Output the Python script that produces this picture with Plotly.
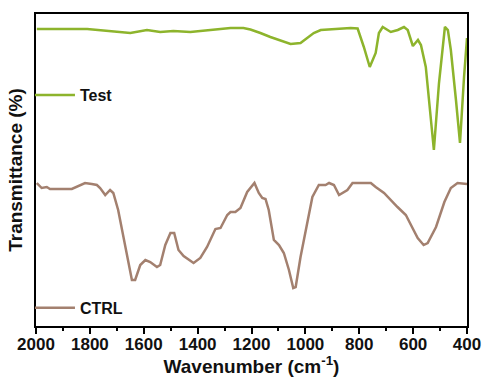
import plotly.graph_objects as go

# Wavenumber (cm-1) and transmittance (arbitrary, offset)
test_wn = [1997, 1810, 1650, 1588, 1539, 1490, 1427, 1353, 1278, 1230, 1204, 1167, 1130,
           1055, 1018, 969, 943, 832, 806, 783, 761, 739, 727, 713, 683, 657, 634, 620,
           601, 582, 571, 553, 523, 504, 489, 482, 471, 460, 441, 426, 411, 400]
test_t = [297, 297, 293, 296, 294, 295, 294, 296, 298, 298, 296.5, 293, 289,
          282, 283, 293, 296, 298, 297.5, 279, 259, 273, 293, 299, 294, 296, 299, 296,
          280, 286, 281, 259, 176, 243, 286, 299, 296, 276, 226, 183, 249, 288]

ctrl_wn = [1997, 1979, 1960, 1948, 1867, 1836, 1818, 1793, 1774, 1762, 1743, 1725, 1713,
           1695, 1668, 1644, 1632, 1613, 1594, 1576, 1551, 1539, 1520, 1501, 1487, 1471,
           1452, 1415, 1390, 1365, 1334, 1315, 1290, 1278, 1260, 1241, 1216, 1189, 1173,
           1160, 1148, 1136, 1117, 1098, 1080, 1061, 1045, 1036, 1018, 999, 974, 950, 925,
           912, 894, 875, 863, 844, 825, 757, 739, 708, 658, 627, 608, 583, 561, 546, 515,
           484, 460, 435, 400]
ctrl_t = [143, 138, 139, 137, 137, 141, 143, 142, 141, 138, 131, 136, 133,
          116, 79, 46, 46, 61, 66, 64, 59, 61, 81, 93, 93, 76,
          70, 63, 68, 79, 97, 98, 111, 114, 114, 118, 134, 143, 133,
          128, 127, 116, 86, 81, 73, 56, 38, 39, 69, 96, 129, 141, 141,
          143, 141, 131, 133, 136, 143, 143, 139, 133, 119, 111, 101, 88, 81, 83, 99,
          124, 138, 143, 142]

x_ticks = [2000, 1800, 1600, 1400, 1200, 1000, 800, 600, 400]

GREEN = "#8db42c"
BROWN = "#a3806f"
FONT = "Liberation Sans"

fig = go.Figure()
fig.add_trace(go.Scatter(x=test_wn, y=test_t, mode="lines", name="Test",
                         line=dict(color=GREEN, width=2.5), legend="legend"))
fig.add_trace(go.Scatter(x=ctrl_wn, y=ctrl_t, mode="lines", name="CTRL",
                         line=dict(color=BROWN, width=2.5), legend="legend2"))

legend_common = dict(x=-0.014, xanchor="left", yanchor="middle", bgcolor="rgba(0,0,0,0)",
                     borderwidth=0, itemwidth=40,
                     font=dict(family=FONT, size=16, color="#111", weight=700))
fig.update_layout(
    width=483, height=377,
    margin=dict(l=36, r=16, t=14, b=51, autoexpand=False),
    paper_bgcolor="white", plot_bgcolor="white",
    showlegend=True,
    legend=dict(y=0.74, **legend_common),
    legend2=dict(y=0.058, **legend_common),
    xaxis=dict(
        range=[2000, 400], autorange=False, automargin=False,
        tickvals=x_ticks, ticktext=[str(v) for v in x_ticks],
        ticks="outside", ticklen=6, tickwidth=2, tickcolor="black",
        ticklabelstandoff=-4,
        minor=dict(dtick=100, tick0=0, ticks="outside", ticklen=3, tickwidth=2, tickcolor="black"),
        showline=True, linecolor="black", linewidth=2, mirror=True,
        showgrid=False, zeroline=False,
        tickfont=dict(family=FONT, size=17, color="#111", weight=700),
        title=dict(text="Wavenumber (cm<sup>-1</sup>)", standoff=0,
                   font=dict(family=FONT, size=19, color="#111", weight=700)),
    ),
    yaxis=dict(
        range=[0, 312], autorange=False, automargin=False,
        showticklabels=False, ticks="",
        showline=True, linecolor="black", linewidth=2, mirror=True,
        showgrid=False, zeroline=False,
        title=dict(text="Transmittance (%)", standoff=6,
                   font=dict(family=FONT, size=19, color="#111", weight=700)),
    ),
)

# remove the default 8px page margin so the figure fills the window exactly
fig.write_html("out.html",
               config={"displayModeBar": False},
               post_script="document.body.style.margin='0';document.body.style.overflow='hidden';")
